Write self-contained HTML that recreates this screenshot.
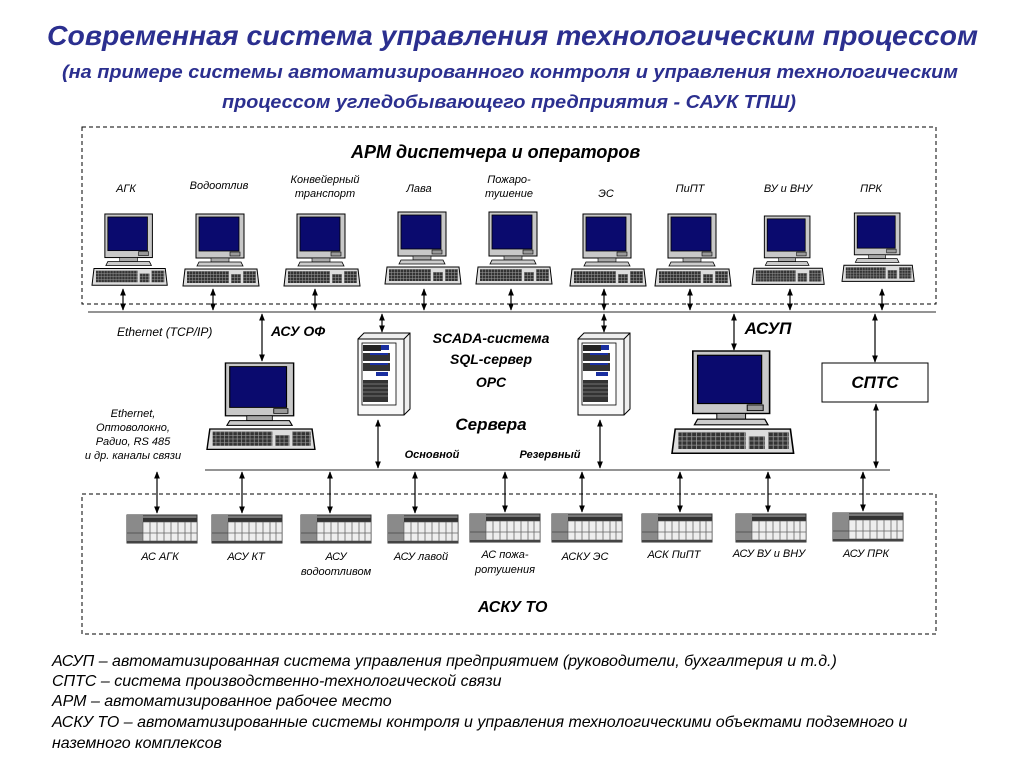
<!DOCTYPE html>
<html><head><meta charset="utf-8"><style>
body{margin:0;background:#fff}
svg{display:block}
text{font-family:"Liberation Sans","Noto Sans CJK SC",sans-serif;font-style:italic}
</style></head><body>
<svg width="1024" height="768" viewBox="0 0 1024 768" xmlns="http://www.w3.org/2000/svg">
<defs>
<marker id="a" viewBox="0 0 10 10" refX="9" refY="5" markerWidth="6" markerHeight="6" orient="auto-start-reverse"><path d="M0,1 L10,5 L0,9 z" fill="#000"/></marker>
<pattern id="keys" width="3" height="3" patternUnits="userSpaceOnUse"><rect width="3" height="3" fill="#333"/><path d="M0,0.3 H3 M0.3,0 V3" stroke="#999" stroke-width="0.5"/></pattern>
<g id="pc">
 <rect x="13" y="0" width="48" height="44" fill="#c8c8c8" stroke="#000" stroke-width="1"/>
 <rect x="16" y="3" width="40" height="34" fill="#0a0a6e" stroke="#000" stroke-width="0.8"/>
 <rect x="47" y="38" width="10" height="4" fill="#999" stroke="#000" stroke-width="0.6"/>
 <rect x="28" y="44" width="18" height="4" fill="#aaa" stroke="#000" stroke-width="0.6"/>
 <path d="M16,48 H58 L60,52 H14 Z" fill="#ccc" stroke="#000" stroke-width="0.8"/>
 <path d="M2,55 H74 L76,72 H0 Z" fill="#ddd" stroke="#000" stroke-width="1"/>
 <rect x="4" y="57" width="42" height="12" fill="url(#keys)"/>
 <rect x="48" y="60" width="10" height="9" fill="url(#keys)"/>
 <rect x="60" y="57" width="13" height="12" fill="url(#keys)"/>
</g>
<g id="srv">
 <path d="M0,6 L6,0 H52 V76 L46,82 H0 Z" fill="#eee" stroke="#000" stroke-width="1"/>
 <path d="M46,6 L52,0 M46,6 V82" stroke="#000" fill="none"/>
 <rect x="0" y="6" width="46" height="76" fill="#f8f8f8" stroke="#000"/>
 <rect x="4" y="10" width="34" height="62" fill="#fff" stroke="#000" stroke-width="0.8"/>
 <rect x="5" y="12" width="18" height="6" fill="#222"/><rect x="23" y="12" width="8" height="5" fill="#1a2fa0"/>
 <rect x="5" y="20" width="27" height="8" fill="#333"/><rect x="12" y="20" width="18" height="2" fill="#1a2fa0"/>
 <rect x="5" y="30" width="27" height="8" fill="#333"/><rect x="12" y="30" width="18" height="2" fill="#1a2fa0"/>
 <rect x="18" y="39" width="12" height="4" fill="#1a2fa0"/>
 <rect x="5" y="47" width="25" height="22" fill="#333"/>
 <path d="M5,51 H30 M5,55 H30 M5,59 H30 M5,63 H30" stroke="#888" stroke-width="0.8"/>
</g>
<g id="plc">
 <rect x="0" y="0" width="70" height="28" fill="#777" stroke="#333"/>
 <rect x="0" y="0" width="16" height="28" fill="#8a8a8a"/>
 <line x1="0" y1="18" x2="16" y2="18" stroke="#555"/>
 <rect x="16" y="3" width="54" height="4" fill="#333"/>
 <rect x="16" y="7" width="54" height="19" fill="#eee" stroke="#555" stroke-width="0.6"/>
 <path d="M23,7 V26 M30,7 V26 M37,7 V26 M44,7 V26 M51,7 V26 M58,7 V26 M64,7 V26 M16,18 H70" stroke="#666" stroke-width="0.8"/>
 <rect x="0" y="26" width="70" height="2" fill="#444"/>
</g>
</defs>

<g fill="#2b2f8f" font-weight="bold">
<text x="47" y="45" font-size="28" textLength="931" lengthAdjust="spacingAndGlyphs">Современная система управления технологическим процессом</text>
<text x="62" y="78" font-size="18" textLength="896" lengthAdjust="spacingAndGlyphs">(на примере системы автоматизированного контроля и управления технологическим</text>
<text x="222" y="108" font-size="18" textLength="574" lengthAdjust="spacingAndGlyphs">процессом угледобывающего предприятия - САУК ТПШ)</text>
</g>

<rect x="82" y="127" width="854" height="177" fill="none" stroke="#000" stroke-dasharray="4,3"/>
<rect x="82" y="494" width="854" height="140" fill="none" stroke="#000" stroke-dasharray="4,3"/>
<line x1="88" y1="312" x2="936" y2="312" stroke="#555" stroke-width="1.2"/>
<line x1="205" y1="470" x2="890" y2="470" stroke="#555" stroke-width="1.2"/>

<text x="351" y="158" font-size="18" font-weight="bold">АРМ диспетчера и операторов</text>

<g font-size="11" text-anchor="middle">
<text x="126" y="192">АГК</text>
<text x="219" y="189">Водоотлив</text>
<text x="325" y="183">Конвейерный</text><text x="325" y="197">транспорт</text>
<text x="419" y="192">Лава</text>
<text x="509" y="183">Пожаро-</text><text x="509" y="197">тушение</text>
<text x="606" y="197">ЭС</text>
<text x="690" y="192">ПиПТ</text>
<text x="788" y="192">ВУ и ВНУ</text>
<text x="871" y="192">ПРК</text>
</g>

<use href="#pc" transform="translate(92,214) scale(0.99,0.99)"/>
<use href="#pc" transform="translate(183,214)"/>
<use href="#pc" transform="translate(284,214)"/>
<use href="#pc" transform="translate(385,212)"/>
<use href="#pc" transform="translate(476,212)"/>
<use href="#pc" transform="translate(570,214)"/>
<use href="#pc" transform="translate(655,214)"/>
<use href="#pc" transform="translate(752,216) scale(0.95)"/>
<use href="#pc" transform="translate(842,213) scale(0.95)"/>

<g stroke="#000" stroke-width="1.2" marker-start="url(#a)" marker-end="url(#a)">
<line x1="123" y1="289" x2="123" y2="310"/>
<line x1="213" y1="289" x2="213" y2="310"/>
<line x1="315" y1="289" x2="315" y2="310"/>
<line x1="424" y1="289" x2="424" y2="310"/>
<line x1="511" y1="289" x2="511" y2="310"/>
<line x1="604" y1="289" x2="604" y2="310"/>
<line x1="690" y1="289" x2="690" y2="310"/>
<line x1="790" y1="289" x2="790" y2="310"/>
<line x1="882" y1="289" x2="882" y2="310"/>
<line x1="262" y1="314" x2="262" y2="361"/>
<line x1="382" y1="314" x2="382" y2="332"/>
<line x1="604" y1="314" x2="604" y2="332"/>
<line x1="734" y1="314" x2="734" y2="350"/>
<line x1="875" y1="314" x2="875" y2="362"/>
<line x1="876" y1="404" x2="876" y2="468"/>
<line x1="378" y1="420" x2="378" y2="468"/>
<line x1="600" y1="420" x2="600" y2="468"/>
<line x1="157" y1="472" x2="157" y2="513"/>
<line x1="242" y1="472" x2="242" y2="513"/>
<line x1="330" y1="472" x2="330" y2="513"/>
<line x1="415" y1="472" x2="415" y2="513"/>
<line x1="505" y1="472" x2="505" y2="512"/>
<line x1="582" y1="472" x2="582" y2="512"/>
<line x1="680" y1="472" x2="680" y2="512"/>
<line x1="768" y1="472" x2="768" y2="512"/>
<line x1="863" y1="472" x2="863" y2="511"/>
</g>

<text x="117" y="336" font-size="12">Ethernet (TCP/IP)</text>
<text x="271" y="336" font-size="14" font-weight="bold">АСУ ОФ</text>
<g font-size="11" text-anchor="middle">
<text x="133" y="417">Ethernet,</text>
<text x="133" y="431">Оптоволокно,</text>
<text x="133" y="445">Радио, RS 485</text>
<text x="133" y="459">и др. каналы связи</text>
</g>

<use href="#pc" transform="translate(207,363) scale(1.42,1.2)"/>
<use href="#pc" transform="translate(672,351) scale(1.6,1.42)"/>
<use href="#srv" transform="translate(358,333)"/>
<use href="#srv" transform="translate(578,333)"/>

<g font-weight="bold" text-anchor="middle">
<text x="491" y="343" font-size="14">SCADA-система</text>
<text x="491" y="364" font-size="14">SQL-сервер</text>
<text x="491" y="387" font-size="14">OPC</text>
<text x="491" y="430" font-size="17">Сервера</text>
<text x="432" y="458" font-size="11">Основной</text>
<text x="550" y="458" font-size="11">Резервный</text>
<text x="768" y="334" font-size="17">АСУП</text>
</g>
<rect x="822" y="363" width="106" height="39" fill="#fff" stroke="#000"/>
<text x="875" y="388" font-size="17" font-weight="bold" text-anchor="middle">СПТС</text>

<use href="#plc" x="127" y="515"/>
<use href="#plc" x="212" y="515"/>
<use href="#plc" x="301" y="515"/>
<use href="#plc" x="388" y="515"/>
<use href="#plc" x="470" y="514"/>
<use href="#plc" x="552" y="514"/>
<use href="#plc" x="642" y="514"/>
<use href="#plc" x="736" y="514"/>
<use href="#plc" x="833" y="513"/>

<g font-size="11" text-anchor="middle">
<text x="160" y="560">АС АГК</text>
<text x="246" y="560">АСУ КТ</text>
<text x="336" y="560">АСУ</text><text x="336" y="575">водоотливом</text>
<text x="421" y="560">АСУ лавой</text>
<text x="505" y="558">АС пожа-</text><text x="505" y="573">ротушения</text>
<text x="585" y="560">АСКУ ЭС</text>
<text x="674" y="558">АСК ПиПТ</text>
<text x="769" y="557">АСУ ВУ и ВНУ</text>
<text x="866" y="557">АСУ ПРК</text>
</g>
<text x="478" y="612" font-size="16" font-weight="bold">АСКУ ТО</text>

<g font-size="16" fill="#000">
<text x="52" y="666">АСУП – автоматизированная система управления предприятием (руководители, бухгалтерия и т.д.)</text>
<text x="52" y="686">СПТС – система производственно-технологической связи</text>
<text x="52" y="706">АРМ – автоматизированное рабочее место</text>
<text x="52" y="727">АСКУ ТО – автоматизированные системы контроля и управления технологическими объектами подземного и</text>
<text x="52" y="748">наземного комплексов</text>
</g>
</svg>
</body></html>
